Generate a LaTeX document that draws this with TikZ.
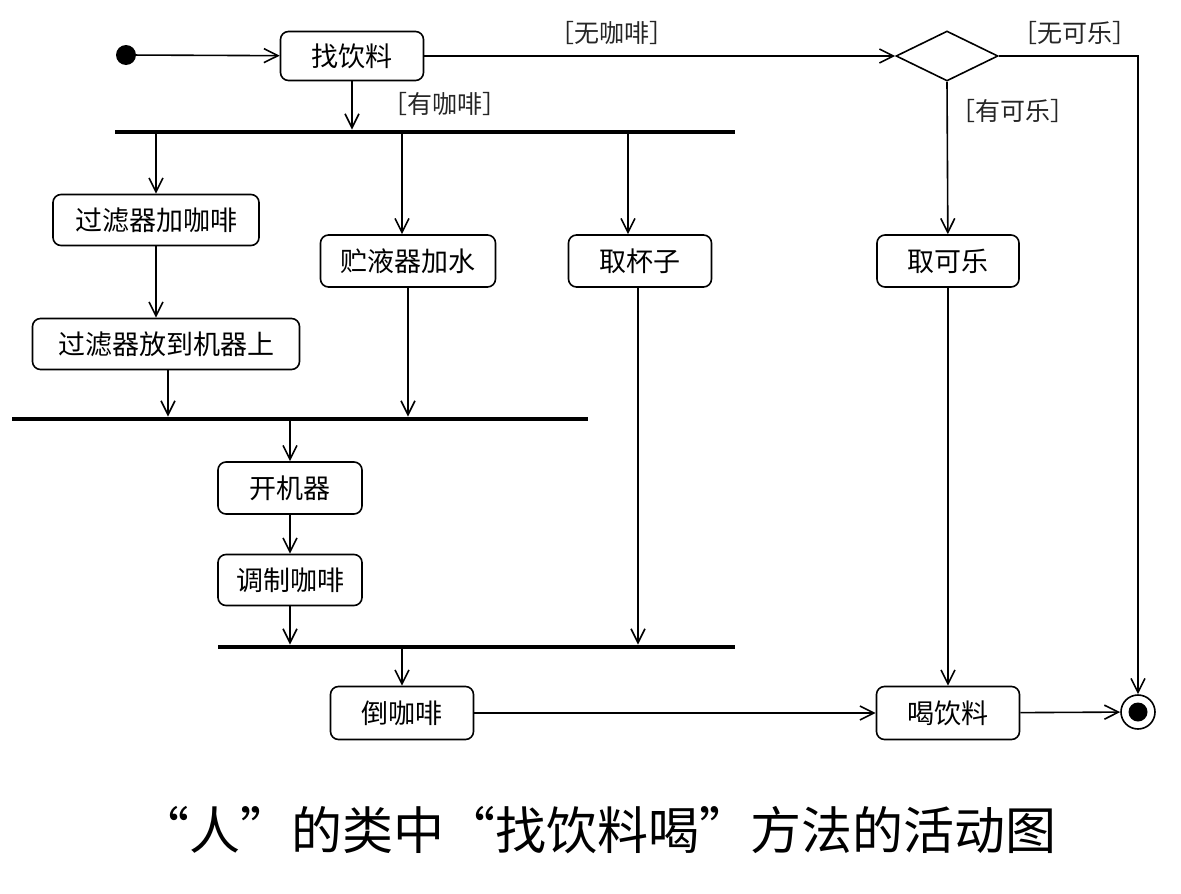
\documentclass[tikz,border=0pt]{standalone}
\usepackage{fontspec}
\setmainfont{Noto Sans CJK SC}
\usetikzlibrary{shapes.geometric, arrows.meta, positioning}

\begin{document}
\begin{tikzpicture}[
    x=1pt, y=-1pt,
    activity/.style={rectangle, draw, line width=1.6pt, rounded corners=8pt, inner sep=0pt, font=\fontsize{27}{30}\selectfont},
    bar/.style={rectangle, fill=black, inner sep=0pt, minimum height=4.5pt},
    guard/.style={font=\fontsize{25}{28}\selectfont, text=black!85},
    arrow/.style={line width=1.6pt, -{Straight Barb[length=14pt, width=14pt, line width=1.6pt]}},
    line/.style={line width=1.6pt}
  ]
    \useasboundingbox (0,0) rectangle (1181,894);

    % Nodes
    \node (start) [circle, fill=black, inner sep=0pt, minimum size=20pt] at (126,55) {};
    \node (find) [activity, minimum width=143pt, minimum height=49pt] at (352,56) {找饮料};
    \node (choice) [diamond, draw, line width=1.6pt, inner sep=0pt, minimum width=102pt, minimum height=50pt] at (947,56) {};

    \node (fork1) [bar, minimum width=620pt] at (425,132) {};
    \node (addCoffee) [activity, minimum width=206pt, minimum height=51pt] at (156,220) {过滤器加咖啡};
    \node (addWater) [activity, minimum width=175pt, minimum height=52pt] at (408,261) {贮液器加水};
    \node (cup) [activity, minimum width=143pt, minimum height=52pt] at (640,261) {取杯子};
    \node (filterOn) [activity, minimum width=267pt, minimum height=51pt] at (166,344) {过滤器放到机器上};

    \node (join1) [bar, minimum width=576pt] at (300,419) {};
    \node (startMachine) [activity, minimum width=144pt, minimum height=52pt] at (290,488) {开机器};
    \node (brew) [activity, minimum width=144pt, minimum height=51pt] at (290,580) {调制咖啡};

    \node (join2) [bar, minimum width=517pt] at (476.5,647) {};
    \node (pour) [activity, minimum width=143pt, minimum height=53pt] at (402,713) {倒咖啡};

    \node (getCola) [activity, minimum width=142pt, minimum height=52pt] at (948,261) {取可乐};
    \node (drink) [activity, minimum width=143pt, minimum height=53pt] at (948,713) {喝饮料};

    \node (final) [circle, draw, line width=1.6pt, inner sep=0pt, minimum size=34pt] at (1138,712) {};
    \node (finalDot) [circle, fill=black, inner sep=0pt, minimum size=19pt] at (final) {};

    % Guards
    \node (noCoffee) [guard] at (612,33) {［无咖啡］};
    \node (hasCoffee) [guard] at (445,104) {［有咖啡］};
    \node (noCola) [guard] at (1075,33) {［无可乐］};
    \node (hasCola) [guard] at (1013,111) {［有可乐］};

    % Caption
    \node (caption) [font=\fontsize{51}{56}\selectfont] at (597,830) {“人”的类中“找饮料喝”方法的活动图};

    % Connections
    \draw [arrow] (start) -- (find);
    \draw [arrow] (find) -- (choice.west);
    \draw [arrow] (choice.east) -| (final.north);
    \draw [arrow] (choice.south) -- (getCola);
    \draw [arrow] (getCola) -- (drink);
    \draw [arrow] (drink) -- (final);

    \draw [arrow] (find) -- (find |- fork1.north);
    \draw [arrow] (fork1 -| addCoffee) -- (addCoffee);
    \draw [arrow] ([xshift=-6pt]addWater.north |- fork1.south) -- ([xshift=-6pt]addWater.north);
    \draw [arrow] ([xshift=-12pt]cup.north |- fork1.south) -- ([xshift=-12pt]cup.north);

    \draw [arrow] (addCoffee) -- (addCoffee |- filterOn.north);
    \draw [arrow] ([xshift=2pt]filterOn.south) -- ([xshift=2pt]filterOn.south |- join1.north);
    \draw [arrow] (addWater) -- (addWater |- join1.north);

    \draw [arrow] (join1 -| startMachine) -- (startMachine);
    \draw [arrow] (startMachine) -- (brew);
    \draw [arrow] (brew) -- (brew |- join2.north);
    \draw [arrow] ([xshift=-2pt]cup.south) -- ([xshift=-2pt]cup.south |- join2.north);

    \draw [arrow] (join2 -| pour) -- (pour);
    \draw [arrow] (pour) -- (drink);

  \end{tikzpicture}
\end{document}
